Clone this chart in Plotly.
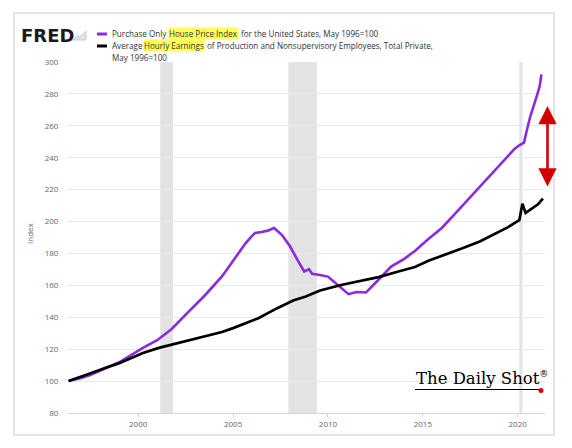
import plotly.graph_objects as go

# House price index, May 1996 = 100
hpi_dates = ['1996-05', '1997-01', '1997-07', '1998-04', '1999-01', '1999-08', '2000-04',
             '2001-01', '2001-10', '2002-08', '2003-07', '2004-06', '2005-02', '2005-09',
             '2006-01', '2006-03', '2006-07', '2006-11', '2007-01', '2007-03', '2007-08',
             '2008-01', '2008-06', '2008-10', '2009-01', '2009-03', '2009-08', '2010-01',
             '2010-03', '2010-08', '2011-02', '2011-07', '2012-01', '2012-07', '2013-01',
             '2013-05', '2014-01', '2014-08', '2015-04', '2016-01', '2016-09', '2017-04',
             '2017-12', '2018-08', '2019-04', '2019-11', '2020-02', '2020-04', '2020-05',
             '2020-07', '2020-09', '2021-01', '2021-03', '2021-04']
hpi_values = [100.0, 102.0, 104.0, 107.8, 111.8, 116.0, 120.8,
              125.6, 132.5, 142.6, 153.5, 165.6, 176.5, 186.5,
              191.0, 192.8, 193.5, 194.3, 195.2, 196.0, 191.5,
              184.5, 175.5, 168.7, 170.2, 167.3, 166.5, 165.5,
              163.9, 159.5, 154.5, 155.8, 155.5, 161.5, 167.8,
              171.8, 176.5, 181.5, 188.6, 196.0, 204.5, 212.0,
              221.0, 229.5, 238.0, 245.5, 247.8, 248.6, 249.5,
              258.0, 266.0, 278.5, 285.0, 292.2]

# Average hourly earnings, May 1996 = 100
ahe_dates = ['1996-05', '1997-01', '1997-07', '1998-04', '1999-01', '1999-08', '2000-04',
             '2001-02', '2002-01', '2002-10', '2003-09', '2004-06', '2005-01', '2005-09',
             '2006-05', '2007-05', '2008-03', '2008-11', '2009-08', '2010-10', '2011-08',
             '2012-09', '2013-09', '2014-08', '2015-05', '2016-03', '2017-02', '2018-01',
             '2018-10', '2019-07', '2020-01', '2020-02', '2020-04', '2020-06', '2020-09',
             '2020-12', '2021-02', '2021-05']
ahe_values = [100.0, 102.6, 104.9, 108.2, 111.2, 114.2, 117.6,
              120.8, 123.6, 125.8, 128.3, 130.8, 133.2, 136.5,
              139.4, 145.7, 150.5, 153.0, 156.8, 160.4, 162.5,
              165.2, 168.5, 171.5, 175.6, 179.0, 183.2, 187.5,
              192.0, 196.5, 200.3, 200.8, 211.2, 205.4, 207.5,
              209.5, 211.0, 214.3]

recession_start = ['2001-03-01', '2007-12-01', '2020-02-01']
recession_end = ['2001-11-01', '2009-06-01', '2020-04-01']

gap_top, gap_bottom = 273.3, 222.0

# the page puts the figure 8px in from the corner, so size and place
# everything in reference pixels minus that offset
OFF = 8
W, H = 572 - OFF, 448 - OFF
L, R, T, B = 60, 27, 54, 35
pw, ph = W - L - R, H - T - B


def px(x):
    return (x - OFF - L) / pw


def py(y):
    return (H - B - (y - OFF)) / ph


PURPLE = '#8a2be2'
FONT = 'Open Sans'

fig = go.Figure()
fig.add_trace(go.Scatter(x=hpi_dates, y=hpi_values, mode='lines',
                         line=dict(color=PURPLE, width=2.6), name='House Price Index'))
fig.add_trace(go.Scatter(x=ahe_dates, y=ahe_values, mode='lines',
                         line=dict(color='black', width=2.7), name='Hourly Earnings'))

shapes = []
for s, e in zip(recession_start, recession_end):
    shapes.append(dict(type='rect', xref='x', yref='paper', x0=s, x1=e, y0=0, y1=1,
                       fillcolor='#e3e3e3', line=dict(width=0), layer='below'))
# outer frame
shapes.append(dict(type='rect', xref='paper', yref='paper', x0=px(14), x1=px(554),
                   y0=py(435), y1=py(13), line=dict(color='#c9c9c9', width=1)))
# legend samples
shapes.append(dict(type='line', xref='paper', yref='paper', x0=px(97), x1=px(107),
                   y0=py(34), y1=py(34), line=dict(color=PURPLE, width=3)))
shapes.append(dict(type='line', xref='paper', yref='paper', x0=px(97), x1=px(107),
                   y0=py(46), y1=py(46), line=dict(color='black', width=3)))
# little chart icon next to the FRED logo
shapes.append(dict(type='path', xref='paper', yref='paper',
                   path='M %f %f L %f %f L %f %f L %f %f L %f %f Z' % (
                       px(73), py(40), px(77), py(36), px(80), py(37), px(86), py(31),
                       px(86), py(40)),
                   fillcolor='#dfe4ec', line=dict(color='#b8c2d2', width=0.8)))
# Daily Shot underline and dot
shapes.append(dict(type='line', xref='paper', yref='paper', x0=px(415), x1=px(539),
                   y0=py(389.5), y1=py(389.5), line=dict(color='black', width=1)))
shapes.append(dict(type='circle', xref='paper', yref='paper', x0=px(538.5), x1=px(543.5),
                   y0=py(393), y1=py(388), fillcolor='#d00000', line=dict(width=0)))

ann = []


def txt(x, y, s, bg=None, size=8.1, color='#333333'):
    ann.append(dict(xref='paper', yref='paper', x=px(x), y=py(y), text=s,
                    showarrow=False, xanchor='left', yanchor='middle',
                    font=dict(family=FONT, size=size, color=color),
                    bgcolor=bg, borderpad=0))


txt(110.5, 34, 'Purchase Only')
txt(168.3, 34, 'House Price Index', bg='#ffff55')
txt(239.5, 34, 'for the United States, May 1996=100')
txt(110.5, 45.7, 'Average')
txt(143.3, 45.7, 'Hourly Earnings', bg='#ffff55')
txt(206, 45.7, 'of Production and Nonsupervisory Employees, Total Private,')
txt(110.5, 57.3, 'May 1996=100')

ann.append(dict(xref='paper', yref='paper', x=px(19), y=py(35), text='<b>FRED</b>',
                showarrow=False, xanchor='left', yanchor='middle',
                font=dict(family='DejaVu Sans', size=18, color='#1a1a1a')))
ann.append(dict(xref='paper', yref='paper', x=px(29), y=py(233), text='Index',
                showarrow=False, textangle=-90, xanchor='center', yanchor='middle',
                font=dict(family=FONT, size=8, color='#666666')))
ann.append(dict(xref='paper', yref='paper', x=px(414), y=py(378),
                text='The Daily Shot<sup><span style="font-size:9px">®</span></sup>',
                showarrow=False, xanchor='left', yanchor='middle',
                font=dict(family='DejaVu Serif', size=16.5, color='black')))
ann.append(dict(xref='paper', yref='y', x=px(547.5), y=gap_bottom,
                axref='pixel', ayref='y', ax=0, ay=gap_top, text='',
                showarrow=True, arrowside='end+start', arrowhead=2, arrowsize=1.4,
                arrowwidth=2.6, arrowcolor='#d40000', standoff=0, startstandoff=0))

fig.update_layout(
    width=W, height=H,
    margin=dict(l=L, r=R, t=T, b=B),
    paper_bgcolor='white', plot_bgcolor='white',
    showlegend=False,
    shapes=shapes, annotations=ann,
    font=dict(family=FONT, size=8, color='#666666'),
    xaxis=dict(type='date', range=['1996-04-20', '2021-06-10'], tick0='2000-01-01',
               dtick='M60', tickformat='%Y', showgrid=False, zeroline=False,
               showline=True, linecolor='#ccd6eb', linewidth=1,
               ticks='outside', ticklen=3, tickcolor='#ccd6eb',
               tickfont=dict(size=8, color='#666666')),
    yaxis=dict(range=[80, 300], dtick=20, showgrid=True, gridcolor='#e8e8e8',
               zeroline=False, ticks='outside', ticklen=7, tickcolor='rgba(0,0,0,0)',
               tickfont=dict(size=8, color='#666666')),
)

fig.write_html('out.html')
